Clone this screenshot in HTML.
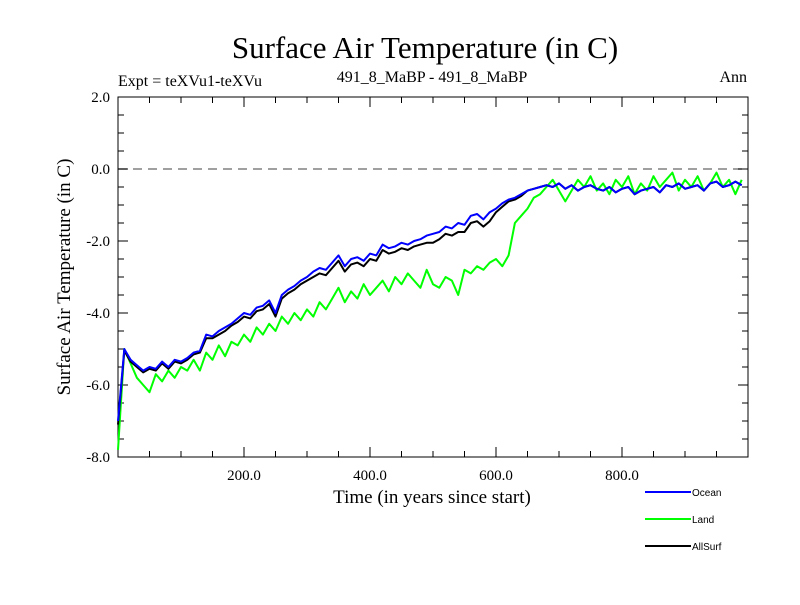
<!DOCTYPE html>
<html><head><meta charset="utf-8"><style>
body{margin:0;background:#fff;}
svg text{font-family:"Liberation Serif",serif;fill:#000;}
</style></head><body>
<svg id="chart" width="800" height="600" viewBox="0 0 800 600" xmlns="http://www.w3.org/2000/svg">
<rect width="800" height="600" fill="#fff"/>
<text x="425" y="58" font-size="31" text-anchor="middle">Surface Air Temperature (in C)</text>
<text x="118" y="86" font-size="16">Expt = teXVu1-teXVu</text>
<text x="432" y="82" font-size="16" text-anchor="middle">491_8_MaBP - 491_8_MaBP</text>
<text x="747" y="82" font-size="16" text-anchor="end">Ann</text>
<text transform="translate(70,277) rotate(-90)" font-size="19" text-anchor="middle">Surface Air Temperature (in C)</text>
<text x="432" y="503" font-size="19" text-anchor="middle">Time (in years since start)</text>
<g id="axes"></g>
<g id="series"></g>
<g id="legend"></g>
</svg>
<script>
const yearsStep = 10;
const ocean = [-7.0,-5.0,-5.3,-5.45,-5.6,-5.5,-5.55,-5.35,-5.5,-5.3,
-5.35,-5.25,-5.1,-5.05,-4.6,-4.65,-4.5,-4.4,-4.3,-4.15,
-4.0,-4.05,-3.85,-3.8,-3.65,-4.0,-3.5,-3.35,-3.25,-3.1,
-3.0,-2.85,-2.75,-2.8,-2.6,-2.4,-2.7,-2.5,-2.45,-2.55,
-2.35,-2.4,-2.1,-2.2,-2.15,-2.05,-2.1,-2.0,-1.95,-1.85,
-1.8,-1.75,-1.6,-1.65,-1.5,-1.55,-1.3,-1.25,-1.4,-1.2,
-1.1,-0.95,-0.85,-0.8,-0.7,-0.6,-0.55,-0.5,-0.45,-0.5,
-0.4,-0.55,-0.45,-0.6,-0.5,-0.45,-0.55,-0.6,-0.5,-0.65,
-0.55,-0.5,-0.7,-0.6,-0.55,-0.5,-0.65,-0.45,-0.5,-0.4,
-0.55,-0.5,-0.45,-0.6,-0.4,-0.35,-0.5,-0.45,-0.35,-0.45];
const allSurf = [-7.1,-5.05,-5.35,-5.5,-5.65,-5.55,-5.6,-5.4,-5.55,-5.35,
-5.4,-5.3,-5.15,-5.1,-4.7,-4.7,-4.6,-4.5,-4.35,-4.25,
-4.1,-4.15,-3.95,-3.9,-3.75,-4.1,-3.6,-3.45,-3.35,-3.2,
-3.1,-3.0,-2.9,-2.95,-2.75,-2.55,-2.85,-2.65,-2.6,-2.7,
-2.5,-2.55,-2.25,-2.35,-2.3,-2.2,-2.25,-2.15,-2.1,-2.05,
-2.05,-1.95,-1.8,-1.85,-1.75,-1.75,-1.5,-1.45,-1.6,-1.45,
-1.2,-1.05,-0.9,-0.85,-0.75,-0.6,-0.55,-0.5,-0.45,-0.5,
-0.4,-0.55,-0.45,-0.6,-0.5,-0.45,-0.55,-0.6,-0.5,-0.65,
-0.55,-0.5,-0.7,-0.6,-0.55,-0.5,-0.65,-0.45,-0.5,-0.4,
-0.55,-0.5,-0.45,-0.6,-0.4,-0.35,-0.5,-0.45,-0.35,-0.45];
const land = [-7.8,-5.0,-5.4,-5.8,-6.0,-6.2,-5.7,-5.9,-5.6,-5.8,
-5.5,-5.6,-5.3,-5.6,-5.1,-5.3,-4.9,-5.2,-4.8,-4.9,
-4.6,-4.8,-4.4,-4.6,-4.3,-4.5,-4.1,-4.3,-4.0,-4.2,
-3.9,-4.1,-3.7,-3.9,-3.6,-3.3,-3.7,-3.4,-3.6,-3.2,
-3.5,-3.3,-3.1,-3.4,-3.0,-3.2,-2.9,-3.1,-3.3,-2.8,
-3.2,-3.3,-3.0,-3.1,-3.5,-2.8,-2.9,-2.7,-2.8,-2.6,
-2.5,-2.7,-2.4,-1.5,-1.3,-1.1,-0.8,-0.7,-0.5,-0.3,
-0.6,-0.9,-0.6,-0.3,-0.5,-0.2,-0.6,-0.4,-0.7,-0.3,
-0.5,-0.2,-0.7,-0.4,-0.6,-0.2,-0.5,-0.3,-0.1,-0.6,
-0.3,-0.5,-0.2,-0.6,-0.4,-0.1,-0.5,-0.3,-0.7,-0.3];
const xTickLabels = [200,400,600,800];
const yTickLabels = [-8,-6,-4,-2,0,2];

const NS="http://www.w3.org/2000/svg";
const L=118,R=748,T=97,B=457;
const xS=v=>L+(v-0)/(1000-0)*(R-L);
const yS=v=>B-(v-(-8))/(2-(-8))*(B-T);
function mk(tag,attrs,parent){const e=document.createElementNS(NS,tag);for(const k in attrs)e.setAttribute(k,attrs[k]);parent.appendChild(e);return e;}
const axes=document.getElementById('axes');
const ser=document.getElementById('series');
const leg=document.getElementById('legend');

// zero line
let zl=mk('line',{x1:L,x2:R,y1:yS(0),y2:yS(0),stroke:'#808080','stroke-width':1.5,'stroke-dasharray':'9,6'},axes);



// frame
let fr=mk('rect',{x:L,y:T,width:R-L,height:B-T,fill:'none',stroke:'#000','stroke-width':1},axes);



// x ticks
for(let v=50;v<1000;v+=50){
  const major=v%200===0, len=major?10:6, x=xS(v);
  mk('line',{x1:x,x2:x,y1:B,y2:B-len,stroke:'#000'},axes);
  mk('line',{x1:x,x2:x,y1:T,y2:T+len,stroke:'#000'},axes);
}
xTickLabels.forEach(v=>{
  const t=mk('text',{x:xS(v),y:B+23,'font-size':15,'text-anchor':'middle'},axes);
  t.textContent=v.toFixed(1);
  
  
});
// y ticks
for(let v=-7.5;v<2;v+=0.5){
  const major=Math.abs(v%2)<1e-9, len=major?10:6, y=yS(v);
  mk('line',{x1:L,x2:L+len,y1:y,y2:y,stroke:'#000'},axes);
  mk('line',{x1:R,x2:R-len,y1:y,y2:y,stroke:'#000'},axes);
}
yTickLabels.forEach(v=>{
  const t=mk('text',{x:L-8,y:yS(v)+5,'font-size':15,'text-anchor':'end'},axes);
  t.textContent=v.toFixed(1);
  
  
});

function line(vals,color,name){
  const pts=vals.map((v,i)=>xS(i*yearsStep).toFixed(1)+','+yS(v).toFixed(1)).join(' ');
  const p=mk('polyline',{points:pts,fill:'none',stroke:color,'stroke-width':2,'stroke-linejoin':'round'},ser);
  
  
}
line(land,'#00ff00','land-series');
line(allSurf,'#000000','allsurf-series');
line(ocean,'#0000ff','ocean-series');

const legendItems=[['Ocean','#0000ff',492],['Land','#00ff00',519],['AllSurf','#000000',546]];
legendItems.forEach(([n,c,y])=>{
  const g=mk('g',{},leg);
  
  
  mk('line',{x1:645,x2:691,y1:y,y2:y,stroke:c,'stroke-width':2},g);
  const t=mk('text',{x:692,y:y+4,'font-size':10,style:'font-family:"Liberation Sans",sans-serif'},g);
  t.textContent=n;
});
</script>
</body></html>
